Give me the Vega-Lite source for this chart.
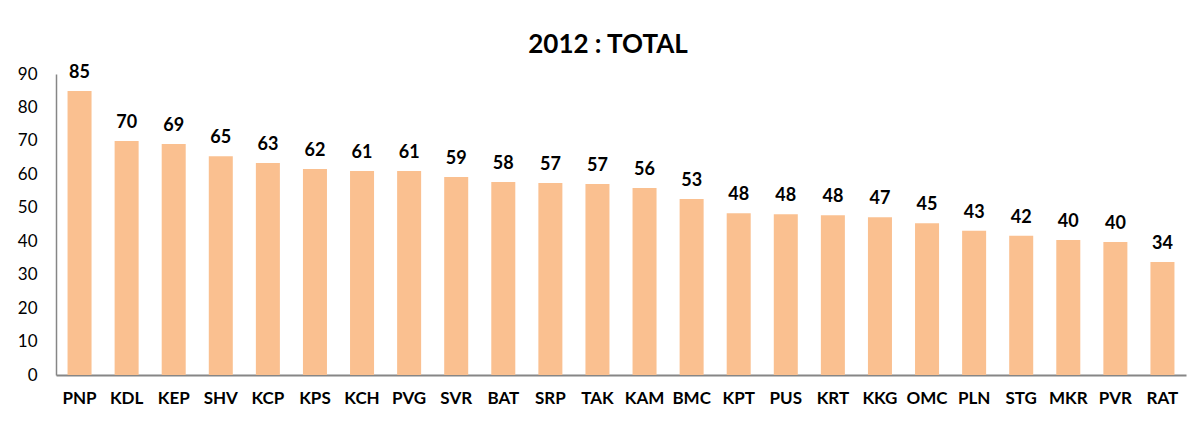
{
  "$schema": "https://vega.github.io/schema/vega-lite/v6.json",
  "autosize": "none",
  "width": 1130,
  "height": 301,
  "padding": {"left": 56, "top": 74, "right": 13, "bottom": 47},
  "background": "white",
  "title": {"text": "2012 : TOTAL", "font": "Lato", "fontSize": 26, "fontWeight": "bold", "color": "#000000", "anchor": "middle", "dx": -13, "offset": 6},
  "data": {"values": [
    {"site": "PNP", "total": 84.9},
    {"site": "KDL", "total": 70.0},
    {"site": "KEP", "total": 69.1},
    {"site": "SHV", "total": 65.4},
    {"site": "KCP", "total": 63.4},
    {"site": "KPS", "total": 61.6},
    {"site": "KCH", "total": 61.0},
    {"site": "PVG", "total": 61.0},
    {"site": "SVR", "total": 59.2},
    {"site": "BAT", "total": 57.7},
    {"site": "SRP", "total": 57.4},
    {"site": "TAK", "total": 57.1},
    {"site": "KAM", "total": 55.9},
    {"site": "BMC", "total": 52.6},
    {"site": "KPT", "total": 48.4},
    {"site": "PUS", "total": 48.1},
    {"site": "KRT", "total": 47.8},
    {"site": "KKG", "total": 47.2},
    {"site": "OMC", "total": 45.4},
    {"site": "PLN", "total": 43.1},
    {"site": "STG", "total": 41.6},
    {"site": "MKR", "total": 40.4},
    {"site": "PVR", "total": 39.8},
    {"site": "RAT", "total": 33.8}
  ]},
  "encoding": {
    "x": {"field": "site", "type": "nominal", "sort": null,
      "scale": {"paddingInner": 0.49, "paddingOuter": 0.245},
      "axis": {"title": null, "labelAngle": 0, "labelFont": "Lato", "labelFontSize": 17, "labelFontWeight": "bold", "labelColor": "#000000", "labelPadding": 15, "ticks": false, "domainColor": "#868686", "domainWidth": 2, "grid": false}},
    "y": {"field": "total", "type": "quantitative",
      "scale": {"domain": [0, 90], "nice": false},
      "axis": {"title": null, "values": [0,10,20,30,40,50,60,70,80,90], "labelFont": "Lato", "labelFontSize": 17, "labelColor": "#000000", "labelPadding": 19, "ticks": false, "domainColor": "#868686", "domainWidth": 1.5, "grid": false}}
  },
  "layer": [
    {"mark": {"type": "bar", "color": "#FAC090"}},
    {"mark": {"type": "text", "baseline": "bottom", "dy": -9, "font": "Lato", "fontSize": 18, "fontWeight": "bold", "color": "#000000"},
     "encoding": {"text": {"field": "total", "type": "quantitative", "format": ".0f"}}}
  ],
  "config": {"view": {"stroke": null}}
}
